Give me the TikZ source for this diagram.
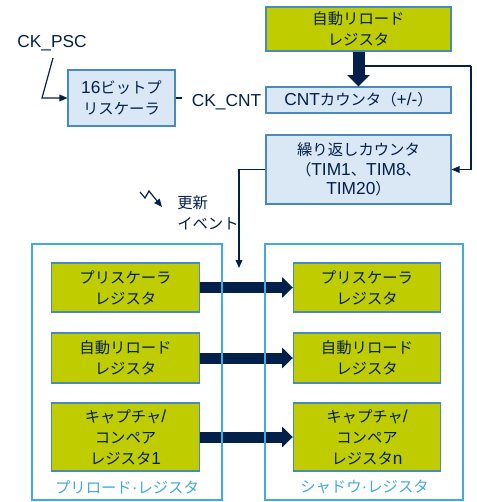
\documentclass[tikz,border=0pt]{standalone}
\usepackage{fontspec}
\setmainfont{Liberation Sans}
\newfontfamily\jp[Scale=0.885]{Noto Sans CJK JP}
\usetikzlibrary{arrows.meta}

\definecolor{navy}{RGB}{3,32,75}
\definecolor{lime}{RGB}{190,204,0}
\definecolor{paleblue}{RGB}{218,232,245}
\definecolor{edge}{RGB}{72,138,186}
\definecolor{framecol}{RGB}{65,170,222}

\tikzset{
  txt/.style={font=\fontsize{13}{15.75}\selectfont, text=navy, inner sep=0pt, align=center},
  bluebox/.style={txt, draw=edge, fill=paleblue, line width=0.8pt, minimum width=138.75pt},
  greenbox/.style={txt, draw=edge, fill=lime, line width=0.8pt, minimum width=110.5pt},
  framebox/.style={draw=framecol, line width=1.6pt},
  framelabel/.style={txt, text=framecol},
  thinarrow/.style={draw=navy, line width=0.9pt, -{Triangle[length=6pt,width=5pt]}},
  thinline/.style={draw=navy, line width=0.9pt},
  bigarrow/.style={draw=navy, line width=8.25pt, -{Triangle[length=8pt,width=15pt]}},
}

\begin{document}
\begin{tikzpicture}[x=0.75pt,y=-0.75pt]
\useasboundingbox (0,0) rectangle (477,502);

% counter section
\node[greenbox, minimum width=138.75pt, minimum height=33pt] (arl) at (358.5,29)
  {\jp 自動リロード\\\jp レジスタ};
\node[bluebox, minimum height=19.5pt] (cnt) at (358.5,100)
  {CNT{\jp カウンタ（}+/-{\jp ）}};
\node[bluebox, minimum height=51.75pt, font=\fontsize{13}{14.6}\selectfont] (rep) at (358.5,169.5)
  {\jp 繰り返しカウンタ\\{\jp （}TIM1{\jp 、}TIM8{\jp 、}\\TIM20{\jp ）}};
\node[bluebox, minimum width=80.25pt, minimum height=42pt] (psc) at (121.5,98)
  {16{\jp ビットプ}\\\jp リスケーラ};

% clock labels
\node[txt, anchor=base] (ckpsc) at (52,48) {CK\_PSC};
\node[txt, inner xsep=7.5pt] (ckcnt) at (226.5,102.5) {CK\_CNT};
\coordinate (k1) at (53,58);
\coordinate (k2) at (42,98);
\draw[thinarrow] (k1) -- (k2) -- (psc.west);
\draw[thinline] (psc.east) -- (psc.east -| ckcnt.west);

% auto-reload into counter, tap to repetition counter
\coordinate (tap) at (358.5,66);
\coordinate (rx) at (471,66);
\draw[thinline] (tap) -- (rx);
\draw[thinarrow] (rx) |- (rep.east);
\draw[draw=navy, line width=9pt, -{Triangle[length=8.5pt,width=16.5pt]}] (arl.south) -- (cnt.north);

% update event
\coordinate (ev) at (239,268);
\draw[thinarrow] (rep.west) -| (ev);
\draw[thinarrow, line join=miter] (140,192) -- (145,198) -- (149,191) -- (162,207);
\node[txt, align=left, anchor=west] (upd) at (177,213) {\jp 更新\\\jp イベント};

% register rows
\node[greenbox, minimum height=36.75pt] (lp) at (125.5,287.5) {\jp プリスケーラ\\\jp レジスタ};
\node[greenbox, minimum height=36.75pt] (rp) at (367,287.5) {\jp プリスケーラ\\\jp レジスタ};
\node[greenbox, minimum height=37.5pt] (la) at (125.5,358) {\jp 自動リロード\\\jp レジスタ};
\node[greenbox, minimum height=37.5pt] (ra) at (367,358) {\jp 自動リロード\\\jp レジスタ};
\node[greenbox, minimum height=51pt] (lc) at (125.5,437)
  {{\jp キャプチャ}/\\\jp コンペア\\{\jp レジスタ}1};
\node[greenbox, minimum height=51pt] (rc) at (367,437)
  {{\jp キャプチャ}/\\\jp コンペア\\{\jp レジスタ}n};

\draw[bigarrow] (lp.east) -- (rp.west);
\draw[bigarrow] (la.east) -- (ra.west);
\draw[bigarrow] (lc.east) -- (rc.west);

% register groups
\draw[framebox] (32,244) rectangle (222,500);
\draw[framebox] (265,244) rectangle (463,500);
\node[framelabel] (prel) at (127,487) {{\jp プリロード}·{\jp レジスタ}};
\node[framelabel] (shad) at (364.5,487) {{\jp シャドウ}·{\jp レジスタ}};
\end{tikzpicture}
\end{document}
